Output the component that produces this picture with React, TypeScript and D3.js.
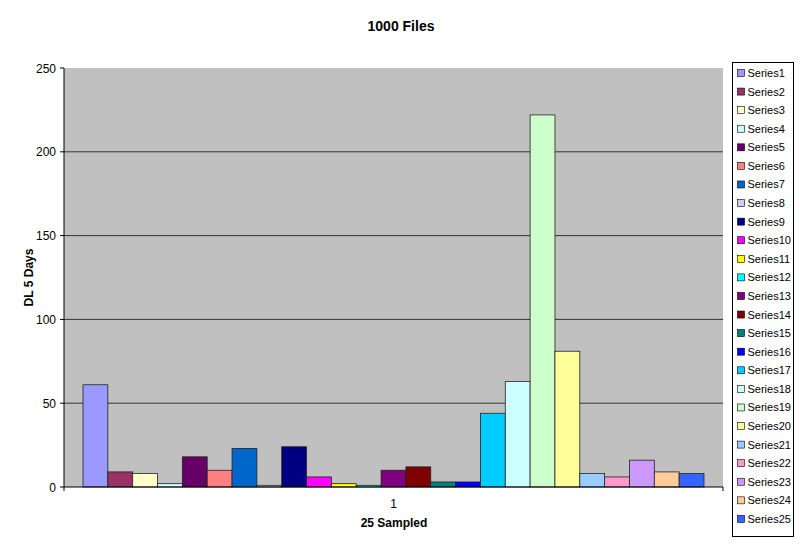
import React from "react";
import * as d3 from "d3";

const seriesNames = Array.from({ length: 25 }, (_, i) => `Series${i + 1}`);
const values = [61, 9, 8, 2, 18, 10, 23, 1, 24, 6, 2, 1, 10, 12, 3, 3, 44, 63, 222, 81, 8, 6, 16, 9, 8];
const colors = [
  "#9999FF", "#993366", "#FFFFCC", "#CCFFFF", "#660066", "#FF8080", "#0066CC", "#CCCCFF",
  "#000080", "#FF00FF", "#FFFF00", "#00FFFF", "#800080", "#800000", "#008080", "#0000FF",
  "#00CCFF", "#CCFFFF", "#CCFFCC", "#FFFF99", "#99CCFF", "#FF99CC", "#CC99FF", "#FFCC99", "#3366FF",
];
const categories = ["1"];
const yTicks = [0, 50, 100, 150, 200, 250];

const W = 800, H = 544;
const plot = { left: 64, right: 723, top: 68, bottom: 487 };
const font = "Arial, 'Liberation Sans', sans-serif";

export default function App() {
  const y = d3.scaleLinear().domain([0, 250]).range([plot.bottom, plot.top]);
  const xCat = d3.scaleBand<string>().domain(categories).range([plot.left, plot.right]);
  const x = d3
    .scaleBand<string>()
    .domain(seriesNames)
    .range([xCat("1")!, xCat("1")! + xCat.bandwidth()])
    .paddingInner(0)
    .paddingOuter(0.765);

  const legendTop = 62, legendStep = 18.58;

  return (
    <svg width={W} height={H} style={{ position: "absolute", left: 0, top: 0, background: "#fff" }}>
      <rect x={0} y={0} width={W} height={H} fill="#fff" />
      <text x={401} y={31} textAnchor="middle" fontFamily={font} fontWeight="bold" fontSize={14}>
        1000 Files
      </text>
      <rect x={plot.left} y={plot.top} width={plot.right - plot.left} height={plot.bottom - plot.top} fill="#C0C0C0" />
      {yTicks.filter((t) => t > 0 && t < 250).map((t) => (
        <line key={t} x1={plot.left} x2={plot.right} y1={y(t)} y2={y(t)} stroke="#333" strokeWidth={1} />
      ))}
      {values.map((v, i) => (
        <rect
          key={i}
          x={x(seriesNames[i])!}
          y={y(v)}
          width={x.bandwidth()}
          height={plot.bottom - y(v)}
          fill={colors[i]}
          stroke="#222"
          strokeWidth={0.8}
        />
      ))}
      {/* y axis */}
      <line x1={plot.left} x2={plot.left} y1={plot.top} y2={plot.bottom} stroke="#000" />
      {yTicks.map((t) => (
        <g key={t}>
          <line x1={plot.left - 4} x2={plot.left} y1={y(t)} y2={y(t)} stroke="#000" />
          <text x={56} y={y(t) + 4.5} textAnchor="end" fontFamily={font} fontSize={12}>
            {t}
          </text>
        </g>
      ))}
      {/* x axis */}
      <line x1={plot.left} x2={plot.right} y1={plot.bottom} y2={plot.bottom} stroke="#000" />
      <line x1={plot.left} x2={plot.left} y1={plot.bottom} y2={plot.bottom + 4} stroke="#000" />
      <line x1={plot.right} x2={plot.right} y1={plot.bottom} y2={plot.bottom + 4} stroke="#000" />
      {categories.map((c) => (
        <text key={c} x={xCat(c)! + xCat.bandwidth() / 2} y={508} textAnchor="middle" fontFamily={font} fontSize={12}>
          {c}
        </text>
      ))}
      <text x={394} y={527} textAnchor="middle" fontFamily={font} fontWeight="bold" fontSize={12}>
        25 Sampled
      </text>
      <text
        transform={`translate(33, ${(plot.top + plot.bottom) / 2}) rotate(-90)`}
        textAnchor="middle"
        fontFamily={font}
        fontWeight="bold"
        fontSize={12}
      >
        DL 5 Days
      </text>
      {/* legend */}
      <rect x={732.5} y={62.5} width={61} height={474} fill="#fff" stroke="#000" strokeWidth={1} />
      {seriesNames.map((s, i) => {
        const cy = legendTop + 11 + i * legendStep;
        return (
          <g key={s}>
            <rect x={737.5} y={cy - 3.5} width={7} height={7} fill={colors[i]} stroke="#000" strokeWidth={0.6} />
            <text x={747.5} y={cy + 4} fontFamily={font} fontSize={11}>
              {s}
            </text>
          </g>
        );
      })}
    </svg>
  );
}
